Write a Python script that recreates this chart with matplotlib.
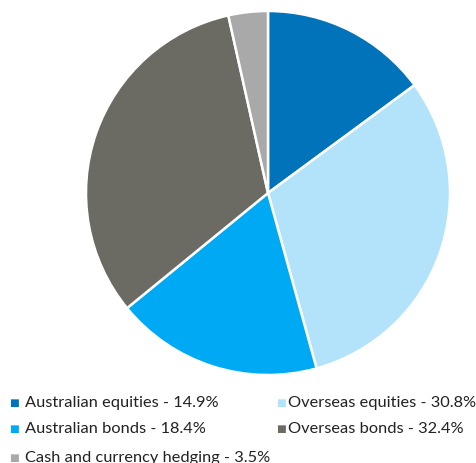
import matplotlib.pyplot as plt

labels = ["Australian equities", "Overseas equities", "Australian bonds",
          "Overseas bonds", "Cash and currency hedging"]
shares = [14.9, 30.8, 18.4, 32.4, 3.5]
colors = ["#0073BA", "#B3E3FA", "#00A9F4", "#6B6B63", "#A9A9A9"]

W, H = 476, 463
fig = plt.figure(figsize=(W / 100, H / 100), dpi=100)

# pie centred at (268, 193) px, radius ~182 px
cx, cy, r = 268, 193, 182
ax = fig.add_axes([(cx - r) / W, (H - cy - r) / H, 2 * r / W, 2 * r / H])
ax.pie(shares, colors=colors, startangle=90, counterclock=False,
       wedgeprops=dict(edgecolor="white", linewidth=1.8))
ax.set_xlim(-1.0, 1.0)
ax.set_ylim(-1.0, 1.0)
ax.set_aspect("equal")
ax.axis("off")

# legend: two columns, filled row by row
col_x = [(14, 25), (281, 288)]   # marker centre, text start (px)
row_y = [403, 429, 458]
for i, (lab, val, c) in enumerate(zip(labels, shares, colors)):
    row, col = divmod(i, 2)
    mx, tx = col_x[col]
    y = 1 - row_y[row] / H
    fig.text(mx / W, y, "\u25a0", color=c, fontsize=7.5, ha="center", va="center",
             family="DejaVu Sans")
    fig.text(tx / W, y, f"{lab} - {val}%", color="#222222", fontsize=11.8,
             ha="left", va="center", family="Lato")

fig.savefig("out.png", dpi=100)
